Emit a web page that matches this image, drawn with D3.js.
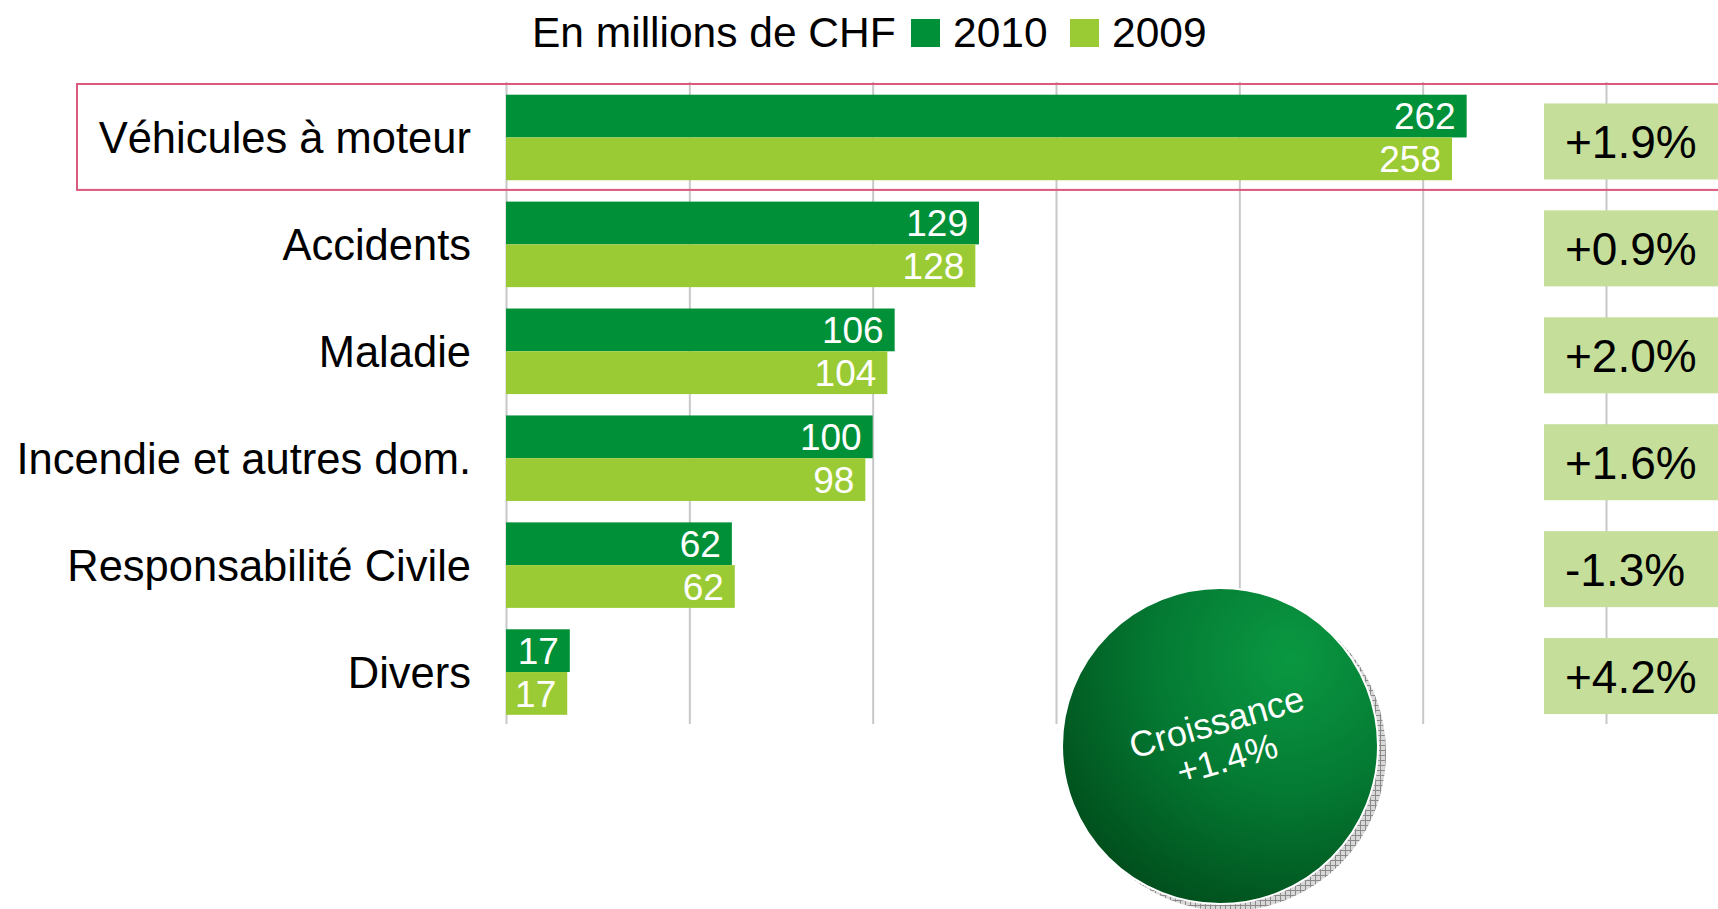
<!DOCTYPE html>
<html>
<head>
<meta charset="utf-8">
<script src="https://cdn.jsdelivr.net/npm/d3@7"></script>
<style>
  html, body { margin: 0; padding: 0; background: #fff; }
  svg { display: block; font-family: "Liberation Sans", Arial, sans-serif; }
</style>
</head>
<body>
<div id="chart"></div>
<script>
// Data
var categories = ["Véhicules à moteur", "Accidents", "Maladie", "Incendie et autres dom.", "Responsabilité Civile", "Divers"];
var values2010 = [262, 129, 106, 100, 61.6, 17.4];
var values2009 = [258, 128, 104, 98, 62.4, 16.7];
var growth = ["+1.9%", "+0.9%", "+2.0%", "+1.6%", "-1.3%", "+4.2%"];
var seriesNames = ["2010", "2009"];
var xTicks = [0, 50, 100, 150, 200, 250, 300];
var unitLabel = "En millions de CHF";
var totalGrowth = ["Croissance", "+1.4%"];

var chartWidth = 1718;
var chartHeight = 909;
var colors = { "2010": "#009138", "2009": "#9bcb34" };

var rows = categories.map(function (c, i) {
  return { cat: c, "2010": values2010[i], "2009": values2009[i], growth: growth[i] };
});

// Scales
const xScale = d3.scaleLinear()
  .domain([0, 300])
  .range([506, 1606]);

const yScale = d3.scaleBand()
  .domain(categories)
  .range([84, 725.5])
  .paddingInner(0.2)
  .paddingOuter(0.1);

const ySub = d3.scaleBand()
  .domain(seriesNames)
  .range([0, yScale.bandwidth()]);

var fmt = d3.format(".0f");

// SVG
var svg = d3.select("#chart")
  .append("svg")
  .attr("width", chartWidth)
  .attr("height", chartHeight);

var defs = svg.append("defs");
var grad = defs.append("radialGradient")
  .attr("id", "ballGrad")
  .attr("cx", "72%").attr("cy", "22%").attr("r", "95%");
grad.append("stop").attr("offset", "0%").attr("stop-color", "#0a9842");
grad.append("stop").attr("offset", "45%").attr("stop-color", "#047a33");
grad.append("stop").attr("offset", "100%").attr("stop-color", "#004517");

var hatch = defs.append("pattern")
  .attr("id", "hatch")
  .attr("width", 5).attr("height", 5)
  .attr("patternUnits", "userSpaceOnUse");
hatch.append("rect").attr("width", 5).attr("height", 5).attr("fill", "#d8d8d8");
hatch.append("path").attr("d", "M0,0.5H5M0.5,0V5").attr("stroke", "#8a8a8a").attr("stroke-width", 1);

// Gridlines
svg.append("g")
  .attr("transform", "translate(0,82)")
  .call(d3.axisBottom(xScale).tickValues(xTicks).tickSize(642).tickFormat(""))
  .call(g => g.select(".domain").remove())
  .call(g => g.selectAll(".tick line").attr("stroke", "#c8c8c8").attr("stroke-width", 2));

// Highlight box round first category
svg.append("rect")
  .attr("x", 77)
  .attr("y", yScale(categories[0]) - yScale.step() * 0.1 + 0)
  .attr("width", 1700)
  .attr("height", yScale.step() - 1)
  .attr("fill", "none")
  .attr("stroke", "#dc5a7e")
  .attr("stroke-width", 2);

// Bars
const groups = svg.selectAll("g.series")
  .data(seriesNames)
  .enter()
  .append("g")
  .attr("class", "series")
  .style("fill", d => colors[d]);

groups.selectAll("rect")
  .data(s => rows.map(r => ({ key: s, cat: r.cat, value: r[s] })))
  .enter()
  .append("rect")
  .attr("x", xScale(0))
  .attr("y", d => yScale(d.cat) + ySub(d.key))
  .attr("width", d => xScale(d.value) - xScale(0))
  .attr("height", ySub.bandwidth());

groups.selectAll("text")
  .data(s => rows.map(r => ({ key: s, cat: r.cat, value: r[s] })))
  .enter()
  .append("text")
  .attr("x", d => xScale(d.value) - 11)
  .attr("y", d => yScale(d.cat) + ySub(d.key) + ySub.bandwidth() / 2)
  .attr("dy", "0.36em")
  .attr("text-anchor", "end")
  .attr("fill", "#fff")
  .style("font-size", "37px")
  .text(d => fmt(d.value));

// Category labels
svg.selectAll("text.cat")
  .data(categories)
  .enter()
  .append("text")
  .attr("class", "cat")
  .attr("x", 471)
  .attr("y", d => yScale(d) + yScale.bandwidth() / 2)
  .attr("dy", "0.36em")
  .attr("text-anchor", "end")
  .style("font-size", "43.5px")
  .attr("fill", "#000")
  .text(d => d);

// Growth boxes
var gb = svg.selectAll("g.growth")
  .data(rows)
  .enter()
  .append("g")
  .attr("class", "growth");

gb.append("rect")
  .attr("x", 1544)
  .attr("y", d => yScale(d.cat) + yScale.bandwidth() / 2 - 34)
  .attr("width", 200)
  .attr("height", 76)
  .attr("fill", "#c5df9a");

gb.append("text")
  .attr("x", 1565)
  .attr("y", d => yScale(d.cat) + yScale.bandwidth() / 2 + 4)
  .attr("dy", "0.36em")
  .style("font-size", "46px")
  .attr("fill", "#000")
  .text(d => d.growth);

// Title and legend
svg.append("text")
  .attr("x", 532)
  .attr("y", 47)
  .style("font-size", "42.5px")
  .attr("fill", "#000")
  .text(unitLabel);

var legendX = [911, 1070];
var leg = svg.selectAll("g.legend")
  .data(seriesNames)
  .enter()
  .append("g")
  .attr("class", "legend")
  .attr("transform", (d, i) => "translate(" + legendX[i] + ",0)");
leg.append("rect")
  .attr("y", 19)
  .attr("width", 29)
  .attr("height", 28)
  .attr("fill", d => colors[d]);
leg.append("text")
  .attr("x", 42)
  .attr("y", 47)
  .style("font-size", "42.5px")
  .attr("fill", "#000")
  .text(d => d);

// Growth ball
var cx = 1220, cy = 746, r = 158;
svg.append("circle")
  .attr("cx", cx + 8).attr("cy", cy + 7).attr("r", r)
  .attr("fill", "url(#hatch)");
svg.append("circle")
  .attr("cx", cx).attr("cy", cy).attr("r", r)
  .attr("fill", "url(#ballGrad)")
  .attr("stroke", "#fff")
  .attr("stroke-width", 2);

svg.append("g")
  .attr("transform", "translate(" + cx + "," + (cy - 12) + ") rotate(-16)")
  .selectAll("text")
  .data(totalGrowth)
  .enter()
  .append("text")
  .attr("y", (d, i) => i * 38)
  .attr("text-anchor", "middle")
  .attr("fill", "#fff")
  .style("font-size", "36px")
  .text(d => d);
</script>
</body>
</html>
